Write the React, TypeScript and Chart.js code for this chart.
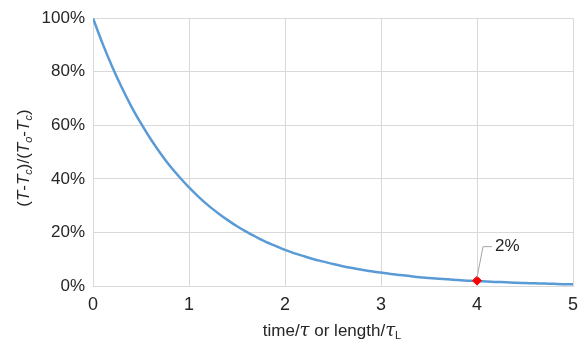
import React, { useEffect, useRef } from "react";
import { Chart, registerables } from "chart.js";

Chart.register(...registerables);

// Normalised time / length (x axis)
const xValues = [
  0, 0.1, 0.2, 0.3, 0.4, 0.5, 0.6, 0.7, 0.8, 0.9,
  1, 1.1, 1.2, 1.3, 1.4, 1.5, 1.6, 1.7, 1.8, 1.9,
  2, 2.1, 2.2, 2.3, 2.4, 2.5, 2.6, 2.7, 2.8, 2.9,
  3, 3.1, 3.2, 3.3, 3.4, 3.5, 3.6, 3.7, 3.8, 3.9,
  4, 4.1, 4.2, 4.3, 4.4, 4.5, 4.6, 4.7, 4.8, 4.9, 5,
];

// Remaining temperature difference, percent
const ratioPercent = [
  100, 90.5, 81.9, 74.1, 67.0, 60.7, 54.9, 49.7, 44.9, 40.7,
  36.8, 33.3, 30.1, 27.3, 24.7, 22.3, 20.2, 18.3, 16.5, 15.0,
  13.5, 12.2, 11.1, 10.0, 9.1, 8.2, 7.4, 6.7, 6.1, 5.5,
  5.0, 4.5, 4.1, 3.7, 3.3, 3.0, 2.7, 2.5, 2.2, 2.0,
  1.8, 1.7, 1.5, 1.4, 1.2, 1.1, 1.0, 0.9, 0.8, 0.7, 0.7,
];

// Highlighted point
const markerX = 4;
const markerPercent = 2;
const markerLabel = "2%";

const xTicks = [0, 1, 2, 3, 4, 5];
const yTicks = [0, 20, 40, 60, 80, 100];

type Seg = { t: string; italic?: boolean; sub?: boolean; serif?: boolean };

const yTitle: Seg[] = [
  { t: "(" },
  { t: "T", italic: true },
  { t: "-" },
  { t: "T", italic: true },
  { t: "c", italic: true, sub: true },
  { t: ")/(" },
  { t: "T", italic: true },
  { t: "o", italic: true, sub: true },
  { t: "-" },
  { t: "T", italic: true },
  { t: "c", italic: true, sub: true },
  { t: ")" },
];

const xTitle: Seg[] = [
  { t: "time/" },
  { t: "\u03C4", italic: true, serif: true },
  { t: " or length/" },
  { t: "\u03C4", italic: true, serif: true },
  { t: "L", sub: true },
];

const SANS = "'Liberation Sans', Arial, sans-serif";
const SERIF = "'DejaVu Serif', 'Liberation Serif', serif";
const TEXT_COLOR = "#262626";

function segFont(s: Seg, size: number) {
  const sz = s.sub ? Math.round(size * 0.62) : s.serif ? size + 1 : size;
  return `${s.italic ? "italic " : ""}${sz}px ${s.serif ? SERIF : SANS}`;
}

function drawRich(ctx: CanvasRenderingContext2D, segs: Seg[], size: number) {
  // draws centred on the current origin, baseline slightly below centre
  let total = 0;
  const widths = segs.map((s) => {
    ctx.font = segFont(s, size);
    const w = ctx.measureText(s.t).width;
    total += w;
    return w;
  });
  let x = -total / 2;
  ctx.textBaseline = "alphabetic";
  ctx.textAlign = "left";
  segs.forEach((s, i) => {
    ctx.font = segFont(s, size);
    ctx.fillText(s.t, x, s.sub ? size * 0.55 : size * 0.36);
    x += widths[i];
  });
}

const decorations = {
  id: "decorations",
  afterDatasetsDraw(chart: any) {
    const { ctx, scales } = chart;
    const xs = scales.x;
    const ys = scales.y;
    ctx.save();
    // leader line + label for the highlighted point
    const px = xs.getPixelForValue(markerX);
    const py = ys.getPixelForValue(markerPercent);
    ctx.strokeStyle = "#a6a6a6";
    ctx.lineWidth = 1;
    ctx.beginPath();
    ctx.moveTo(px, py - 3);
    ctx.lineTo(px + 6, py - 34);
    ctx.lineTo(px + 15, py - 34);
    ctx.stroke();
    ctx.fillStyle = TEXT_COLOR;
    ctx.font = `17px ${SANS}`;
    ctx.textAlign = "left";
    ctx.textBaseline = "middle";
    ctx.fillText(markerLabel, px + 18, py - 34);
    ctx.restore();
  },
  afterDraw(chart: any) {
    const { ctx, chartArea } = chart;
    ctx.save();
    ctx.fillStyle = TEXT_COLOR;
    // y axis title
    ctx.translate(23, (chartArea.top + chartArea.bottom) / 2 + 6);
    ctx.rotate(-Math.PI / 2);
    drawRich(ctx, yTitle, 17);
    ctx.restore();
    ctx.save();
    ctx.fillStyle = TEXT_COLOR;
    ctx.translate(332, 330);
    drawRich(ctx, xTitle, 17);
    ctx.restore();
  },
};

export default function App() {
  const ref = useRef<HTMLCanvasElement>(null);

  useEffect(() => {
    if (!ref.current) return;
    const chart = new Chart(ref.current, {
      type: "scatter",
      data: {
        datasets: [
          {
            data: xValues.map((x, i) => ({ x, y: ratioPercent[i] })),
            showLine: true,
            borderColor: "#5b9bd5",
            borderWidth: 2.5,
            pointRadius: 0,
            tension: 0.3,
            order: 2,
          },
          {
            data: [{ x: markerX, y: markerPercent }],
            pointStyle: "rectRot",
            pointRadius: 4.5,
            backgroundColor: "#ff0000",
            borderColor: "#ff0000",
            order: 1,
          },
        ],
      },
      options: {
        animation: false,
        responsive: true,
        maintainAspectRatio: false,
        layout: { padding: { left: 0, right: 0, top: 18, bottom: 0 } },
        plugins: {
          legend: { display: false },
          tooltip: { enabled: false },
        },
        scales: {
          x: {
            type: "linear",
            min: 0,
            max: 5,
            afterBuildTicks: (s: any) => {
              s.ticks = xTicks.map((v) => ({ value: v }));
            },
            afterFit: (s: any) => {
              s.height = 65;
              s.paddingRight = 7;
            },
            grid: { color: "#d9d9d9", lineWidth: 1, drawTicks: false },
            border: { color: "#d9d9d9" },
            ticks: {
              padding: 8,
              color: TEXT_COLOR,
              font: { family: SANS, size: 18 },
              maxRotation: 0,
            },
          },
          y: {
            type: "linear",
            min: 0,
            max: 100,
            afterBuildTicks: (s: any) => {
              s.ticks = yTicks.map((v) => ({ value: v }));
            },
            afterFit: (s: any) => {
              s.width = 93;
            },
            grid: { color: "#d9d9d9", lineWidth: 1, drawTicks: false },
            border: { color: "#d9d9d9" },
            ticks: {
              padding: 8,
              color: TEXT_COLOR,
              font: { family: SANS, size: 17 },
              callback: (v: any) => `${v}%`,
            },
          },
        },
      },
      plugins: [decorations],
    });
    return () => chart.destroy();
  }, []);

  return (
    <div style={{ position: "fixed", left: 0, top: 0, width: 580, height: 351, background: "#fff" }}>
      <canvas ref={ref} />
    </div>
  );
}
